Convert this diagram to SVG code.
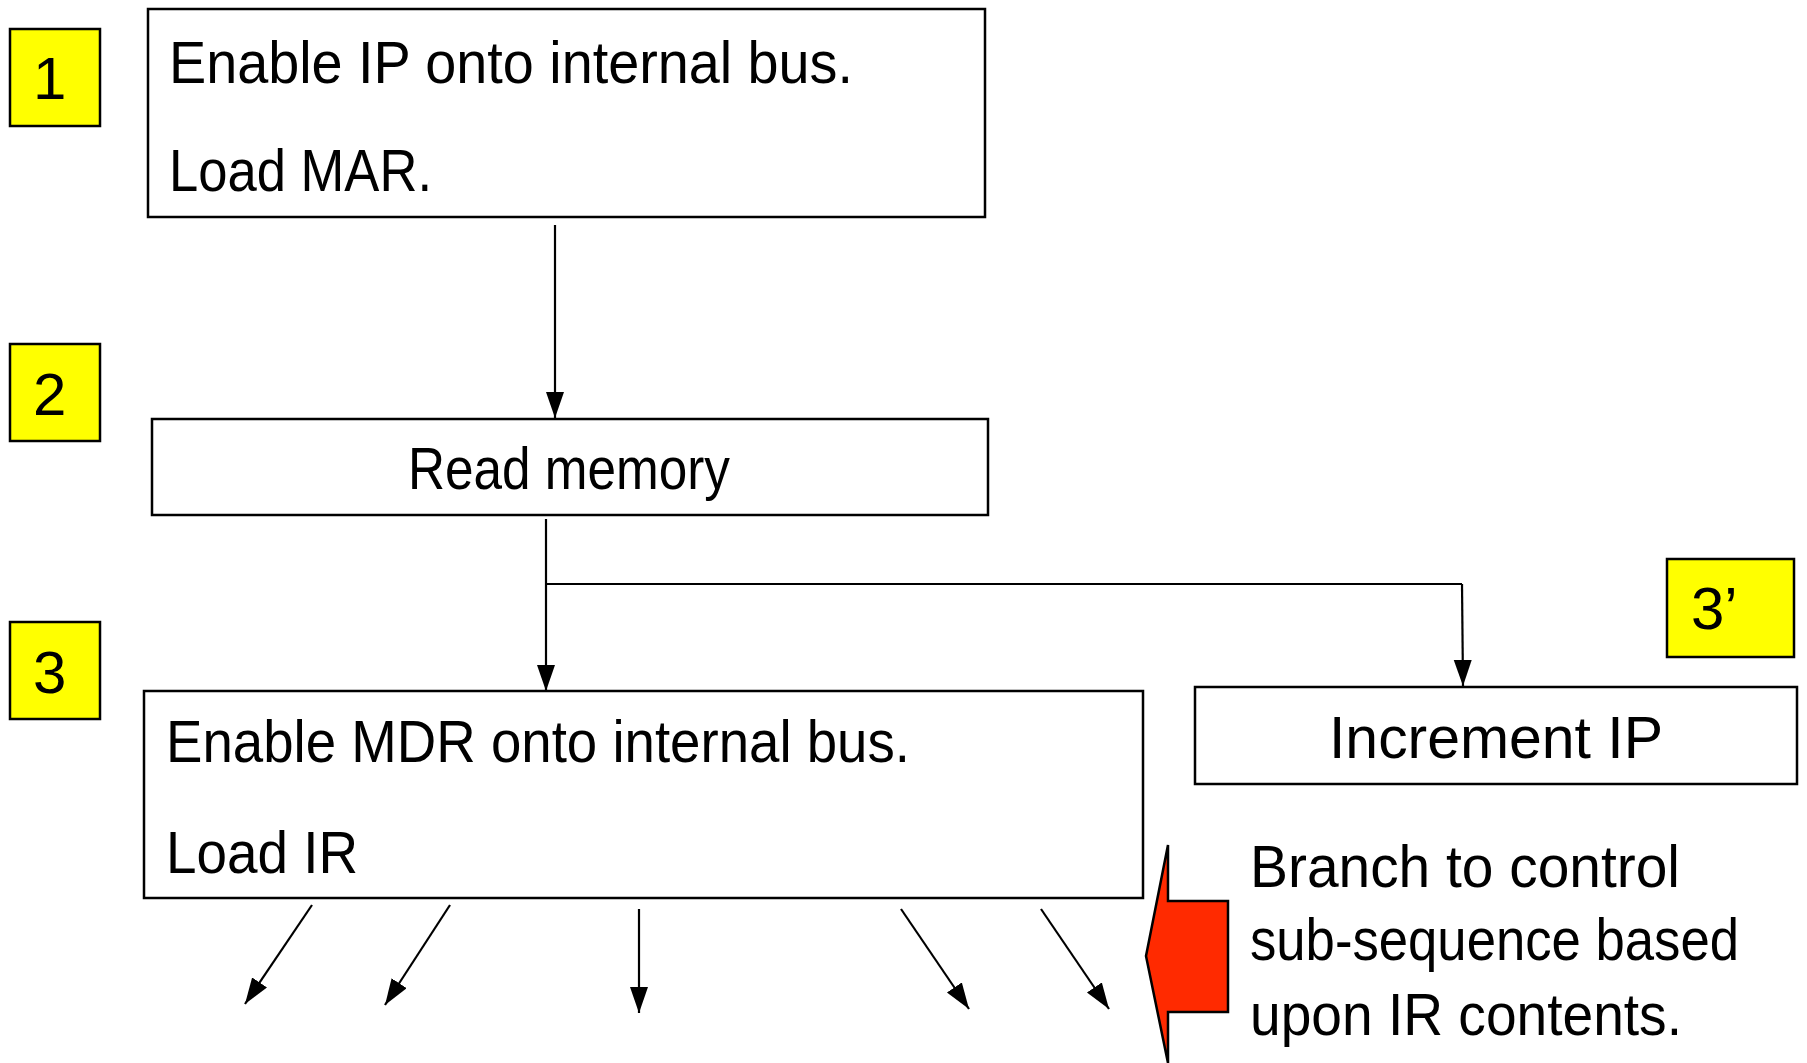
<svg xmlns="http://www.w3.org/2000/svg" width="1807" height="1063" viewBox="0 0 1807 1063">
<defs>
<style>
.box{fill:#fff;stroke:#000;stroke-width:2.5}
.tag{fill:#ffff00;stroke:#000;stroke-width:2.5}
.t{font-family:"Liberation Sans","Open Sans",sans-serif;font-size:60px;fill:#000}
.c{fill:none;stroke:#000;stroke-width:2.2}
</style>
<marker id="ah" markerUnits="userSpaceOnUse" markerWidth="28" markerHeight="20" refX="26" refY="9" orient="auto">
<path d="M0,0 L26,9 L0,18 z" fill="#000"/>
</marker>
</defs>
<rect width="1807" height="1063" fill="#fff"/>
<g id="tag1"><rect class="tag" x="10" y="29" width="90" height="97"/><text class="t" x="33" y="99">1</text></g>
<g id="tag2"><rect class="tag" x="10" y="344" width="90" height="97"/><text class="t" x="33" y="415">2</text></g>
<g id="tag3"><rect class="tag" x="10" y="622" width="90" height="97"/><text class="t" x="33" y="693">3</text></g>
<g id="tag3p"><rect class="tag" x="1667" y="559" width="127" height="98"/><text class="t" x="1691" y="629">3’</text></g>
<g id="step1"><rect class="box" x="148" y="9" width="837" height="208"/>
<text class="t" x="169" y="83" textLength="684" lengthAdjust="spacingAndGlyphs">Enable IP onto internal bus.</text>
<text class="t" x="169" y="191" textLength="263" lengthAdjust="spacingAndGlyphs">Load MAR.</text></g>
<g id="step2"><rect class="box" x="152" y="419" width="836" height="96"/>
<text class="t" x="408" y="489" textLength="322" lengthAdjust="spacingAndGlyphs">Read memory</text></g>
<g id="step3"><rect class="box" x="144" y="691" width="999" height="207"/>
<text class="t" x="166" y="762" textLength="744" lengthAdjust="spacingAndGlyphs">Enable MDR onto internal bus.</text>
<text class="t" x="166" y="873" textLength="192" lengthAdjust="spacingAndGlyphs">Load IR</text></g>
<g id="step3p"><rect class="box" x="1195" y="687" width="602" height="97"/>
<text class="t" x="1329" y="758" textLength="334" lengthAdjust="spacingAndGlyphs">Increment IP</text></g>
<g id="branch-note">
<path d="M1168,845 L1168,901 L1228,901 L1228,1012 L1168,1012 L1168,1063 L1146,956 Z" fill="#ff2a00" stroke="#000" stroke-width="2.5"/>
<text class="t" x="1250" y="887" textLength="430" lengthAdjust="spacingAndGlyphs">Branch to control</text>
<text class="t" x="1250" y="960" textLength="489" lengthAdjust="spacingAndGlyphs">sub-sequence based</text>
<text class="t" x="1250" y="1035" textLength="432" lengthAdjust="spacingAndGlyphs">upon IR contents.</text>
</g>
<g id="connectors">
<line class="c" x1="555" y1="225" x2="555" y2="418" marker-end="url(#ah)"/>
<line class="c" x1="546" y1="519" x2="546" y2="691" marker-end="url(#ah)"/>
<line class="c" x1="546" y1="584" x2="1462" y2="584" stroke-width="3"/>
<line class="c" x1="1462" y1="584" x2="1463" y2="686" marker-end="url(#ah)"/>
<line class="c" x1="312" y1="905" x2="245" y2="1004" marker-end="url(#ah)"/>
<line class="c" x1="450" y1="905" x2="385" y2="1005" marker-end="url(#ah)"/>
<line class="c" x1="639" y1="909" x2="639" y2="1013" marker-end="url(#ah)"/>
<line class="c" x1="901" y1="909" x2="969" y2="1009" marker-end="url(#ah)"/>
<line class="c" x1="1041" y1="909" x2="1109" y2="1009" marker-end="url(#ah)"/>
</g>
</svg>
